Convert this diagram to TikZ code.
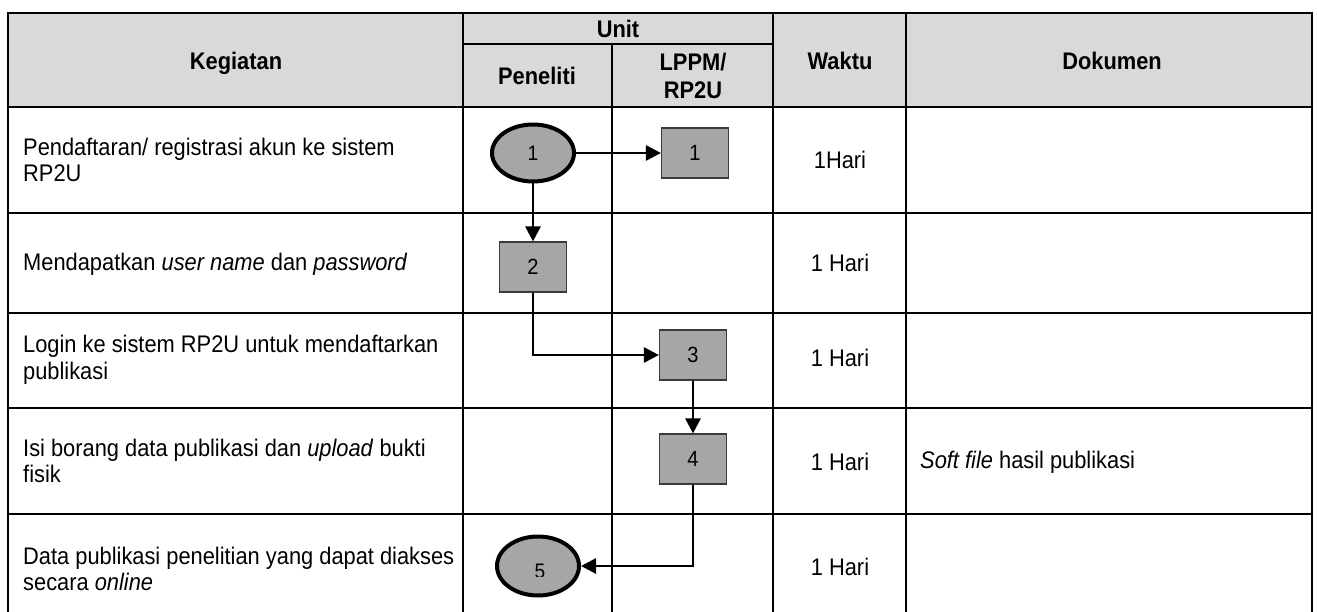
\documentclass[tikz,border=0pt]{standalone}
\usepackage{fontspec}
\setmainfont{Liberation Sans}[FakeStretch=0.91]
\usetikzlibrary{shapes.geometric,arrows.meta}
\definecolor{hdrgray}{HTML}{D9D9D9}
\definecolor{boxgray}{HTML}{A6A6A6}
\definecolor{boxline}{HTML}{3A3A3A}
\begin{document}
\begin{tikzpicture}[x=1pt,y=-1pt,
  grid/.style={line width=2.6pt, black, line cap=rect},
  hdr/.style={font=\fontsize{24}{28}\selectfont\bfseries, align=center, inner sep=0, anchor=base},
  body/.style={font=\fontsize{24}{26.5}\selectfont, align=left, anchor=west, inner sep=0},
  waktu/.style={font=\fontsize{24}{26.5}\selectfont, inner sep=0},
  proc/.style={rectangle, draw=boxline, line width=1.2pt, fill=boxgray, minimum width=67pt, minimum height=50pt, inner sep=0, font=\fontsize{22}{24}\selectfont},
  term/.style={ellipse, draw=black, line width=4pt, fill=boxgray, minimum width=82pt, minimum height=57pt, inner sep=0, font=\fontsize{21}{23}\selectfont},
  flow/.style={line width=2.8pt, -{Triangle[length=15pt,width=15pt]}},
]
\useasboundingbox (0,0) rectangle (1317,612);
% header background
\fill[hdrgray] (8,13) rectangle (1312,107);
% grid
\draw[grid] (8,13) -- (1312,13);
\draw[grid] (463,44) -- (773,44);
\foreach \yy in {107,213,313,408,514} \draw[grid] (8,\yy) -- (1312,\yy);
\foreach \xx in {8,463,773,906,1312} \draw[grid] (\xx,13) -- (\xx,625);
\draw[grid] (612,44) -- (612,625);
% header texts
\node[hdr] (hK) at (236,70) {Kegiatan};
\node[hdr] (hU) at (618,38) {Unit};
\node[hdr] (hP) at (537,85) {Peneliti};
\node[hdr] (hL1) at (693,71) {LPPM/};
\node[hdr] (hL2) at (693,99) {RP2U};
\node[hdr] (hW) at (840,70) {Waktu};
\node[hdr] (hD) at (1112,70) {Dokumen};
% activities
\node[body] (k1) at (23,160) {Pendaftaran/ registrasi akun ke sistem\\RP2U};
\node[body] (k2) at (23,264) {Mendapatkan \textit{user name} dan \textit{password}};
\node[body] (k3) at (23,360) {Login ke sistem RP2U untuk mendaftarkan\\publikasi};
\node[body] (k4) at (23,461) {Isi borang data publikasi dan \textit{upload} bukti\\fisik};
\node[body] (k5) at (23,569) {Data publikasi penelitian yang dapat diakses\\secara \textit{online}};
% waktu
\node[waktu] (w1) at (840,160) {1Hari};
\node[waktu] (w2) at (840,263) {1 Hari};
\node[waktu] (w3) at (840,358) {1 Hari};
\node[waktu] (w4) at (840,462) {1 Hari};
\node[waktu] (w5) at (840,567) {1 Hari};
% dokumen
\node[body] (d4) at (920,462) {\textit{Soft file} hasil publikasi};
% flow shapes
\node[term] (E1) at (533,153) {\raisebox{-4pt}{1}};
\node[proc] (R1) at (695,153) {1};
\node[proc] (R2) at (533,267) {2};
\node[proc] (R3) at (693,355) {3};
\node[proc] (R4) at (693,459) {4};
\node[term, minimum height=59pt] (E5) at (538,566) {};
\begin{scope}
  \clip (480,520) rectangle (600,576);
  \node[font=\fontsize{21}{23}\selectfont, inner sep=0] (E5t) at (540,571) {5};
\end{scope}
% connectors
\draw[flow] (E1) -- (R1);
\draw[flow] (E1) -- (R2);
\draw[flow] (R2.south) |- (R3.west);
\draw[flow] (R3) -- (R4);
\draw[flow] (R4.south) |- (E5.east);
\end{tikzpicture}
\end{document}
